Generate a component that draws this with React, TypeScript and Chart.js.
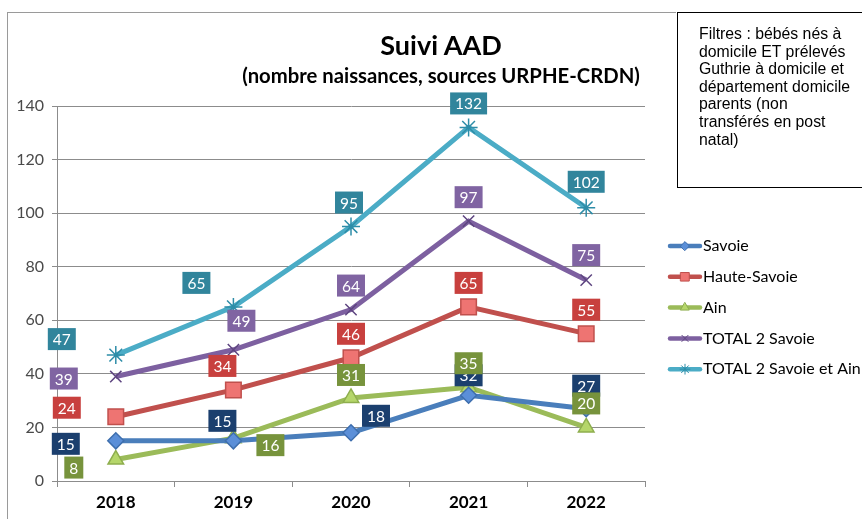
import React, { useEffect, useRef } from 'react';
import { Chart, registerables } from 'chart.js';
import { drawPoint } from 'chart.js/helpers';

Chart.register(...registerables);

const YEARS = ['2018', '2019', '2020', '2021', '2022'];
const SAVOIE = [15, 15, 18, 32, 27];
const HAUTE_SAVOIE = [24, 34, 46, 65, 55];
const AIN = [8, 16, 31, 35, 20];
const TOTAL_2_SAVOIE = [39, 49, 64, 97, 75];
const TOTAL_2_SAVOIE_AIN = [47, 65, 95, 132, 102];
const SERIES_NAMES = ['Savoie', 'Haute-Savoie', 'Ain', 'TOTAL 2 Savoie', 'TOTAL 2 Savoie et Ain'];
const Y_MIN = 0;
const Y_MAX = 140;
const Y_STEP = 20;

const TITLE = 'Suivi AAD';
const SUBTITLE = '(nombre naissances, sources URPHE-CRDN)';
const FILTER_LINES = [
  'Filtres : bébés nés à',
  'domicile ET prélevés',
  'Guthrie à domicile et',
  'département domicile',
  'parents (non',
  'transférés en post',
  'natal)',
];

// label box offsets relative to each point (pixels)
const LABEL_OFFSETS: number[][][] = [
  [[-50, 3], [-11, -20], [25, -17], [0, -20], [0, -23]],
  [[-49, -9], [-11, -24], [0, -24], [0, -24], [0, -24]],
  [[-42, 8], [37, 7], [0, -23], [0, -24], [0, -24]],
  [[-52, 2], [8, -29], [0, -24], [0, -24], [0, -25]],
  [[-54, -16], [-37, -24], [-2, -24], [0, -24], [0, -26]],
];

const FONT = 'Lato, "Open Sans", sans-serif';

const boxLabels = {
  id: 'boxLabels',
  afterDatasetsDraw(chart: any) {
    const ctx = chart.ctx;
    ctx.save();
    chart.data.datasets.forEach((ds: any, di: number) => {
      const meta = chart.getDatasetMeta(di);
      meta.data.forEach((pt: any, i: number) => {
        const [dx, dy] = LABEL_OFFSETS[di][i];
        const x = pt.x + dx;
        const y = pt.y + dy;
        const text = String(ds.data[i]);
        ctx.font = `15.5px ${FONT}`;
        const w = ctx.measureText(text).width + 10;
        const h = 22;
        ctx.fillStyle = ds.labelFill;
        ctx.fillRect(x - w / 2, y - h / 2, w, h);
        ctx.fillStyle = '#ffffff';
        ctx.textAlign = 'center';
        ctx.textBaseline = 'middle';
        ctx.fillText(text, x, y + 1);
      });
    });
    ctx.restore();
  },
};

const sideLegend = {
  id: 'sideLegend',
  afterDraw(chart: any) {
    const ctx = chart.ctx;
    ctx.save();
    const x0 = 668;
    const y0 = 246;
    const step = 30.8;
    chart.data.datasets.forEach((ds: any, di: number) => {
      const y = y0 + di * step;
      ctx.strokeStyle = ds.borderColor;
      ctx.lineWidth = 4.5;
      ctx.lineCap = 'round';
      ctx.beginPath();
      ctx.moveTo(x0 + 2, y);
      ctx.lineTo(x0 + 32, y);
      ctx.stroke();
      ctx.fillStyle = ds.pointBackgroundColor;
      ctx.strokeStyle = ds.pointBorderColor;
      ctx.lineWidth = 1;
      drawPoint(ctx, {
        pointStyle: ds.pointStyle,
        radius: Math.max(3, ds.pointRadius * 0.55),
        borderWidth: 1,
        rotation: 0,
      } as any, x0 + 17, y);
      ctx.font = `16px ${FONT}`;
      ctx.fillStyle = '#000000';
      ctx.textAlign = 'left';
      ctx.textBaseline = 'middle';
      ctx.fillText(SERIES_NAMES[di], x0 + 35, y);
    });
    ctx.restore();
  },
};

export default function App() {
  const ref = useRef<HTMLCanvasElement>(null);

  useEffect(() => {
    if (!ref.current) return;
    const mk = (label: string, data: number[], line: string, fill: string, border: string, labelFill: string, pointStyle: string, radius: number) => ({
      label,
      data,
      borderColor: line,
      backgroundColor: line,
      borderWidth: 5,
      pointStyle,
      pointRadius: radius,
      pointHoverRadius: radius,
      pointBackgroundColor: fill,
      pointBorderColor: border,
      pointBorderWidth: 1.5,
      tension: 0,
      labelFill,
    });
    const chart = new Chart(ref.current, {
      type: 'line',
      data: {
        labels: YEARS,
        datasets: [
          mk(SERIES_NAMES[0], SAVOIE, '#4A7EBB', '#5B8FD8', '#3E6FAE', '#1B3F6E', 'rectRot', 8),
          mk(SERIES_NAMES[1], HAUTE_SAVOIE, '#C0504D', '#EE7472', '#C0504D', '#C8403E', 'rect', 11),
          mk(SERIES_NAMES[2], AIN, '#9BBB59', '#B5D66A', '#8EAE4E', '#77933C', 'triangle', 9),
          mk(SERIES_NAMES[3], TOTAL_2_SAVOIE, '#7D60A0', '#7D60A0', '#5E4580', '#8064A2', 'crossRot', 8),
          mk(SERIES_NAMES[4], TOTAL_2_SAVOIE_AIN, '#4BACC6', '#4BACC6', '#2E8DA8', '#31859C', 'star', 9),
        ] as any,
      },
      options: {
        responsive: false,
        animation: false,
        layout: { padding: { left: 8, top: 106, right: 217, bottom: 0 } },
        plugins: {
          legend: { display: false },
          tooltip: { enabled: false },
          title: { display: false },
        },
        scales: {
          x: {
            offset: true,
            afterFit: (s: any) => { s.height = 38; },
            grid: { offset: true, drawOnChartArea: false, color: '#8c8c8c', tickLength: 6 },
            border: { color: '#8c8c8c', width: 1 },
            ticks: { color: '#000000', font: { family: FONT, size: 17, weight: 'bold' }, padding: 5 },
          },
          y: {
            min: Y_MIN,
            max: Y_MAX,
            afterFit: (s: any) => { s.width = 49; },
            grid: { color: '#8c8c8c', tickLength: 5 },
            border: { color: '#8c8c8c', width: 1 },
            ticks: { stepSize: Y_STEP, color: '#4a4a4a', font: { family: FONT, size: 16 }, padding: 8 },
          },
        },
      },
      plugins: [boxLabels, sideLegend],
    });
    return () => chart.destroy();
  }, []);

  return (
    <div style={{ position: 'fixed', left: 0, top: 0, width: 862, height: 519, background: '#fff', overflow: 'hidden' }}>
      <canvas ref={ref} width={862} height={519} style={{ position: 'absolute', left: 0, top: 0, display: 'block' }} />
      <div style={{ position: 'absolute', left: 7, top: 12, width: 669, height: 1, background: '#9a9a9a' }} />
      <div style={{ position: 'absolute', left: 7, top: 12, width: 1, height: 507, background: '#9a9a9a' }} />
      <div style={{ position: 'absolute', left: 240, width: 402, top: 28, textAlign: 'center', fontFamily: FONT, fontWeight: 700, fontSize: 27, lineHeight: '34px', color: '#000' }}>{TITLE}</div>
      <div style={{ position: 'absolute', left: 200, width: 482, top: 62, textAlign: 'center', fontFamily: FONT, fontWeight: 700, fontSize: 20.3, lineHeight: '26px', color: '#000' }}>{SUBTITLE}</div>
      <div style={{ position: 'absolute', left: 677, top: 12, width: 190, height: 176, border: '1px solid #000', boxSizing: 'border-box', padding: '12px 0 0 21px', fontFamily: '"Liberation Sans", Arial, sans-serif', fontSize: 15.8, lineHeight: '17.6px', color: '#000', whiteSpace: 'nowrap' }}>
        {FILTER_LINES.map((l, i) => (<div key={i}>{l}</div>))}
      </div>
    </div>
  );
}
